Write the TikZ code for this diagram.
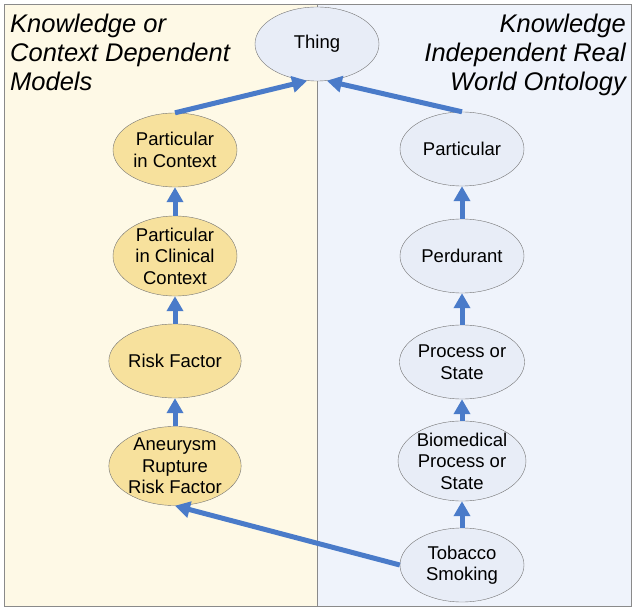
\documentclass[tikz,border=0pt]{standalone}
\usepackage{fontspec}
\setmainfont{Liberation Sans}
\usetikzlibrary{arrows.meta,shapes.geometric}

\definecolor{panelcream}{HTML}{FEF9E6}
\definecolor{panelblue}{HTML}{EFF3FB}
\definecolor{ctxfill}{HTML}{F7E19D}
\definecolor{ontfill}{HTML}{E8EDF7}
\definecolor{linkblue}{HTML}{4A7BC9}
\definecolor{framegray}{HTML}{8A8A8A}

\tikzset{
  ctxnode/.style={ellipse, draw=black!55, fill=ctxfill, minimum width=124pt,
    minimum height=74pt, inner sep=0pt, align=center,
    font=\fontsize{18.5}{21.5}\selectfont},
  ontnode/.style={ctxnode, fill=ontfill},
  link/.style={line width=5pt, draw=linkblue,
    -{Triangle[length=15pt,width=16pt]}},
  paneltitle/.style={inner sep=0pt, font=\itshape\fontsize{25.5}{29}\selectfont}
}

\begin{document}
\begin{tikzpicture}[x=1pt, y=-1pt]
            %\draw[lightgray] (0, 0) grid (635, 612);
            \useasboundingbox (0, 0) rectangle (635, 612);

            \fill[panelcream] (4, 4) rectangle (317, 606);
            \fill[panelblue] (317, 4) rectangle (631, 606);
            \draw[framegray] (317, 4) -- (317, 606);
            \draw[framegray] (4, 4) rectangle (631, 606);

            \node[paneltitle, anchor=north west, align=left] (lefttitle) at (10, 14)
                {Knowledge or\\Context Dependent\\Models};
            \node[paneltitle, anchor=north east, align=right] (righttitle) at (626, 14)
                {Knowledge\\Independent Real\\World Ontology};

            \node[ontnode] (thing) at (317, 44) {Thing};

            \node[ctxnode] (pctx) at (175, 150) {Particular\\in Context};
            \node[ctxnode] (pclin) at (175, 256) {Particular\\in Clinical\\Context};
            \node[ctxnode] (risk) at (175, 361) {Risk Factor};
            \node[ctxnode] (aneur) at (175, 466) {Aneurysm\\Rupture\\Risk Factor};

            \node[ontnode] (part) at (462, 149) {Particular};
            \node[ontnode] (perd) at (462, 256) {Perdurant};
            \node[ontnode] (proc) at (462, 362) {Process or\\State};
            \node[ontnode] (biomed) at (462, 461) {Biomedical\\Process or\\State};
            \node[ontnode] (tobacco) at (462, 565) {Tobacco\\Smoking};

            \draw[link] (pctx.north) -- (thing.255);
            \draw[link] (part.north) -- (thing.285);
            \draw[link] (pclin) -- (pctx);
            \draw[link] (risk) -- (pclin);
            \draw[link] (aneur) -- (risk);
            \draw[link] (perd) -- (part);
            \draw[link] (proc) -- (perd);
            \draw[link] (biomed) -- (proc);
            \draw[link] (tobacco) -- (biomed);
            \draw[link] (tobacco.west) -- (aneur.south);
        \end{tikzpicture}
\end{document}
